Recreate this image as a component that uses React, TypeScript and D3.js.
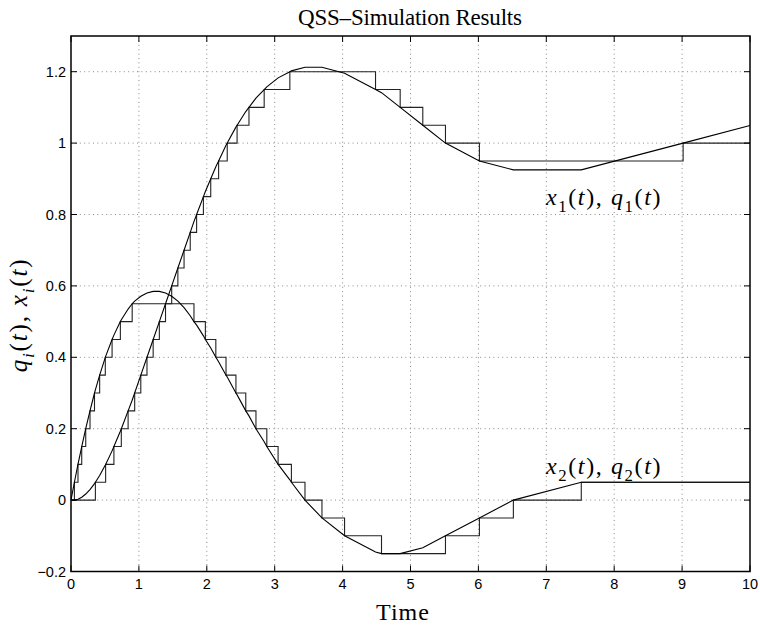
import React from 'react';
import * as d3 from 'd3';

const W = 760;
const H = 629;

const xTicks = [0, 1, 2, 3, 4, 5, 6, 7, 8, 9, 10];
const yTicks = [-0.2, 0, 0.2, 0.4, 0.6, 0.8, 1, 1.2];
const yTickLabels = ['\u22120.2', '0', '0.2', '0.4', '0.6', '0.8', '1', '1.2'];

// quantized state q1 (staircase): event times and new levels
const q1Times = [0, 0.359, 0.510, 0.632, 0.741, 0.841, 0.938, 1.028, 1.119, 1.210, 1.301, 1.392, 1.483, 1.574, 1.665, 1.756, 1.850, 1.950, 2.058, 2.174, 2.301, 2.446, 2.621, 2.845, 3.223, 4.485, 4.848, 5.181, 5.515, 6.015, 9.015];
const q1Levels = [0, 0.05, 0.1, 0.15, 0.2, 0.25, 0.3, 0.35, 0.4, 0.45, 0.5, 0.55, 0.6, 0.65, 0.7, 0.75, 0.8, 0.85, 0.9, 0.95, 1.0, 1.05, 1.1, 1.15, 1.2, 1.15, 1.1, 1.05, 1.0, 0.95, 1.0];

// quantized state q2 (staircase)
const q2Times = [0, 0.05, 0.103, 0.158, 0.217, 0.280, 0.346, 0.422, 0.505, 0.605, 0.727, 0.901, 1.811, 1.979, 2.133, 2.283, 2.429, 2.574, 2.724, 2.884, 3.050, 3.246, 3.446, 3.696, 4.029, 4.573, 5.515, 6.015, 6.515, 7.515];
const q2Levels = [0, 0.05, 0.1, 0.15, 0.2, 0.25, 0.3, 0.35, 0.4, 0.45, 0.5, 0.55, 0.5, 0.45, 0.4, 0.35, 0.3, 0.25, 0.2, 0.15, 0.1, 0.05, 0, -0.05, -0.1, -0.15, -0.1, -0.05, 0, 0.05];

// continuous states x1, x2 (piecewise linear)
const xTimes = [0, 0.05, 0.1026, 0.1582, 0.2170, 0.2795, 0.3462, 0.3589, 0.4221, 0.5055, 0.5101, 0.6050, 0.6318, 0.7266, 0.7413, 0.8413, 0.9008, 0.9376, 1.0285, 1.1194, 1.2103, 1.3012, 1.3921, 1.4830, 1.5740, 1.6649, 1.7558, 1.8106, 1.8503, 1.9503, 1.9791, 2.0582, 2.1332, 2.1738, 2.2832, 2.3010, 2.4286, 2.4464, 2.5740, 2.6209, 2.7236, 2.8452, 2.8838, 3.0505, 3.2233, 3.2460, 3.4460, 3.6960, 4.0293, 4.4853, 4.5733, 4.8480, 5.1813, 5.5146, 6.0146, 6.5146, 7.5146, 9.0146, 10];
const x1Values = [0, 0, 0.0026, 0.0082, 0.0170, 0.0295, 0.0462, 0.05, 0.0690, 0.0981, 0.1, 0.1379, 0.15, 0.1927, 0.2, 0.25, 0.2798, 0.3, 0.35, 0.4, 0.45, 0.5, 0.55, 0.6, 0.65, 0.7, 0.75, 0.7802, 0.8, 0.85, 0.8644, 0.9, 0.9338, 0.95, 0.9938, 1.0, 1.0447, 1.05, 1.0883, 1.1, 1.1257, 1.15, 1.1577, 1.1827, 1.2, 1.2023, 1.2123, 1.2123, 1.1956, 1.15, 1.1412, 1.1, 1.05, 1.0, 0.95, 0.925, 0.925, 1.0, 1.0493];
const x2Values = [0, 0.05, 0.1, 0.15, 0.2, 0.25, 0.3, 0.3089, 0.35, 0.4, 0.4026, 0.45, 0.4621, 0.5, 0.5051, 0.5351, 0.55, 0.5574, 0.5710, 0.5801, 0.5846, 0.5846, 0.5801, 0.5710, 0.5574, 0.5392, 0.5165, 0.5, 0.4901, 0.4601, 0.45, 0.4263, 0.4, 0.3878, 0.35, 0.3447, 0.3, 0.2947, 0.25, 0.2359, 0.2, 0.1635, 0.15, 0.1, 0.0568, 0.05, 0, -0.05, -0.1, -0.1456, -0.15, -0.15, -0.1333, -0.1, -0.05, 0, 0.05, 0.05, 0.05];

const T_END = 10;

const plotLeft = 71;
const plotRight = 750;
const plotTop = 36;
const plotBottom = 571.5;

type Part = { t: string; it?: boolean; sub?: boolean };

const mathLabel = (v: string, n: string): Part[] => [
  { t: v, it: true },
  { t: n, sub: true },
  { t: '(' },
  { t: 't', it: true },
  { t: ')' },
];

function MathText({ parts, x, y, size, anchor = 'start', transform, spacing = 0 }: { parts: Part[]; x: number; y: number; size: number; anchor?: string; transform?: string; spacing?: number }) {
  const spans: React.ReactNode[] = [];
  let prevSub = false;
  parts.forEach((p, i) => {
    let dy = 0;
    if (p.sub && !prevSub) dy = size * 0.28;
    if (!p.sub && prevSub) dy = -size * 0.28;
    prevSub = !!p.sub;
    spans.push(
      <tspan
        key={i}
        dy={dy}
        fontStyle={p.it ? 'italic' : 'normal'}
        fontSize={p.sub ? size * 0.7 : size}
      >
        {p.t}
      </tspan>
    );
  });
  return (
    <text x={x} y={y} textAnchor={anchor} fontFamily="'Liberation Serif', 'Times New Roman', serif" fontSize={size} letterSpacing={spacing} transform={transform} fill="#000">
      {spans}
    </text>
  );
}

export default function App() {
  const x = d3.scaleLinear().domain([0, 10]).range([plotLeft, plotRight]);
  const y = d3.scaleLinear().domain([-0.2, 1.3]).range([plotBottom, plotTop]);

  const stepLine = d3
    .line<[number, number]>()
    .x((d) => x(d[0]))
    .y((d) => y(d[1]))
    .curve(d3.curveStepAfter);
  const line = d3
    .line<[number, number]>()
    .x((d) => x(d[0]))
    .y((d) => y(d[1]));

  const q1Pts: [number, number][] = q1Times.map((t, i) => [t, q1Levels[i]] as [number, number]);
  q1Pts.push([T_END, q1Levels[q1Levels.length - 1]]);
  const q2Pts: [number, number][] = q2Times.map((t, i) => [t, q2Levels[i]] as [number, number]);
  q2Pts.push([T_END, q2Levels[q2Levels.length - 1]]);
  const x1Pts: [number, number][] = xTimes.map((t, i) => [t, x1Values[i]] as [number, number]);
  const x2Pts: [number, number][] = xTimes.map((t, i) => [t, x2Values[i]] as [number, number]);

  const gridColor = '#8a8a8a';
  const tickLen = 6;

  const yLabelParts: Part[] = [
    { t: 'q', it: true },
    { t: 'i', it: true, sub: true },
    { t: '(' },
    { t: 't', it: true },
    { t: '), ' },
    { t: 'x', it: true },
    { t: 'i', it: true, sub: true },
    { t: '(' },
    { t: 't', it: true },
    { t: ')' },
  ];

  const ann1: Part[] = [...mathLabel('x', '1'), { t: ', ' }, ...mathLabel('q', '1')];
  const ann2: Part[] = [...mathLabel('x', '2'), { t: ', ' }, ...mathLabel('q', '2')];

  return (
    <svg width={W} height={H} style={{ position: 'absolute', left: 0, top: 0, background: '#fff' }}>
      <rect x={0} y={0} width={W} height={H} fill="#fff" />
      {/* grid */}
      <g stroke={gridColor} strokeWidth={1} strokeDasharray="1,3.4">
        {xTicks.filter((t) => t > 0 && t < 10).map((t) => (
          <line key={'gx' + t} x1={x(t)} x2={x(t)} y1={plotTop} y2={plotBottom} />
        ))}
        {yTicks.filter((t) => t > -0.2).map((t) => (
          <line key={'gy' + t} x1={plotLeft} x2={plotRight} y1={y(t)} y2={y(t)} />
        ))}
      </g>
      {/* curves */}
      <g fill="none" stroke="#000" strokeWidth={1.1} strokeLinejoin="miter">
        <path d={stepLine(q1Pts) || ''} stroke="#222" />
        <path d={stepLine(q2Pts) || ''} stroke="#222" />
        <path d={line(x1Pts) || ''} />
        <path d={line(x2Pts) || ''} />
      </g>
      {/* box */}
      <rect x={plotLeft} y={plotTop} width={plotRight - plotLeft} height={plotBottom - plotTop} fill="none" stroke="#000" strokeWidth={1.5} />
      {/* ticks */}
      <g stroke="#000" strokeWidth={1}>
        {xTicks.map((t) => (
          <g key={'tx' + t}>
            <line x1={x(t)} x2={x(t)} y1={plotBottom} y2={plotBottom - tickLen} />
            <line x1={x(t)} x2={x(t)} y1={plotTop} y2={plotTop + tickLen} />
          </g>
        ))}
        {yTicks.map((t) => (
          <g key={'ty' + t}>
            <line x1={plotLeft} x2={plotLeft + tickLen} y1={y(t)} y2={y(t)} />
            <line x1={plotRight} x2={plotRight - tickLen} y1={y(t)} y2={y(t)} />
          </g>
        ))}
      </g>
      {/* tick labels */}
      <g fontFamily="'Liberation Sans', Arial, sans-serif" fontSize={14.5} fill="#000">
        {xTicks.map((t) => (
          <text key={'lx' + t} x={x(t)} y={plotBottom + 17} textAnchor="middle">
            {String(t)}
          </text>
        ))}
        {yTicks.map((t, i) => (
          <text key={'ly' + t} x={plotLeft - 5} y={y(t) + 5} textAnchor="end">
            {yTickLabels[i]}
          </text>
        ))}
      </g>
      {/* title */}
      <text x={410} y={25} textAnchor="middle" fontFamily="'Liberation Serif', 'Times New Roman', serif" fontSize={23} textLength={224} lengthAdjust="spacing">
        QSS–Simulation Results
      </text>
      {/* x label */}
      <text x={403} y={620} textAnchor="middle" fontFamily="'Liberation Serif', 'Times New Roman', serif" fontSize={24} letterSpacing={1}>
        Time
      </text>
      {/* y label */}
      <MathText parts={yLabelParts} x={0} y={0} size={25} anchor="middle" spacing={1.8} transform="translate(27,315) rotate(-90)" />
      {/* annotations */}
      <MathText parts={ann1} x={546} y={205} size={24} spacing={1.6} />
      <MathText parts={ann2} x={546} y={474} size={24} spacing={1.6} />
    </svg>
  );
}
